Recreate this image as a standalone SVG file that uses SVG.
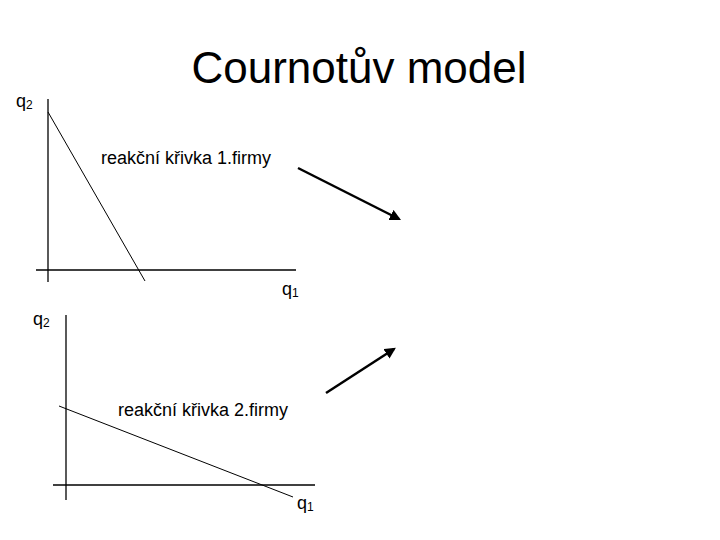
<svg xmlns="http://www.w3.org/2000/svg" width="720" height="540" viewBox="0 0 720 540">
<defs>
<style>
text{font-family:"Liberation Sans",Arial,sans-serif;fill:#000}
.ax{stroke:#000;stroke-width:1.3;fill:none}
.cv{stroke:#000;stroke-width:1;fill:none}
.ar{stroke:#000;stroke-width:2.5;fill:none}
.lb{font-size:18px}
.sub{font-size:12px}
</style>
<marker id="ah" viewBox="0 0 10 10" refX="8" refY="5" markerWidth="4.5" markerHeight="4.5" orient="auto" markerUnits="strokeWidth">
<path d="M0,0 L10,5 L0,10 z" fill="#000"/>
</marker>
</defs>
<rect width="720" height="540" fill="#fff"/>
<text x="359" y="83" font-size="44" text-anchor="middle">Cournotův model</text>
<g id="graph1">
<line class="ax" x1="48" y1="99" x2="48" y2="282"/>
<line class="ax" x1="36" y1="270" x2="296" y2="270"/>
<line class="cv" x1="48" y1="112" x2="145" y2="281"/>
<text class="lb" x="16" y="107">q<tspan class="sub" dy="2">2</tspan></text>
<text class="lb" x="282" y="295">q<tspan class="sub" dy="2">1</tspan></text>
<text class="lb" x="101" y="164">reakční křivka 1.firmy</text>
</g>
<g id="graph2">
<line class="ax" x1="66" y1="315" x2="66" y2="500"/>
<line class="ax" x1="53" y1="485" x2="315" y2="485"/>
<line class="cv" x1="59" y1="406" x2="293" y2="497"/>
<text class="lb" x="33" y="325">q<tspan class="sub" dy="2">2</tspan></text>
<text class="lb" x="297" y="509">q<tspan class="sub" dy="2">1</tspan></text>
<text class="lb" x="118" y="416">reakční křivka 2.firmy</text>
</g>
<g id="connectors">
<line class="ar" x1="298" y1="168" x2="399" y2="219" marker-end="url(#ah)"/>
<line class="ar" x1="326" y1="393" x2="394" y2="349" marker-end="url(#ah)"/>
</g>
</svg>
